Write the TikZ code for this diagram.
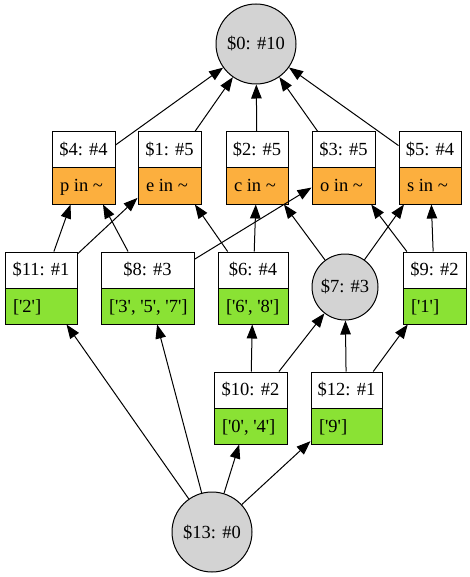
\documentclass[tikz,border=0pt]{standalone}
\usepackage{fontspec}
\setmainfont{Liberation Serif}
\usetikzlibrary{arrows.meta,calc}
\definecolor{gvorange}{HTML}{FCAF3E}
\definecolor{gvgreen}{HTML}{8AE234}
\definecolor{gvgrey}{HTML}{D3D3D3}
\newcommand\gvrec[7]{%
  \node[rec={#4}{#5}] (#1) at (#2,#3) {};
  \node[anchor=base] (#1t) at ($(#1.north)+(0,24)$) {#6};
  \node[anchor=base west] (#1b) at ($(#1.west)+(8,24)$) {#7};
}
\newcommand\q{\textquotesingle}
\begin{document}
\begin{tikzpicture}[x=1pt,y=-1pt,line width=1pt,
  every node/.style={font=\fontsize{18.5}{22}\selectfont, inner sep=0pt},
  circ/.style={circle, draw, fill=gvgrey, minimum size=#1},
  rec/.style 2 args={draw, minimum width=#1, minimum height=72,
    path picture={\fill[#2] (path picture bounding box.west) rectangle (path picture bounding box.south east);
      \draw (path picture bounding box.west) -- (path picture bounding box.east);}},
  edge/.style={-{Triangle[length=14pt,width=10.5pt]}}]
\useasboundingbox (0,0) rectangle (470,577);
% circles
\node[circ=80] (n0) at (256,44) {\$0: \#10};
\node[circ=66] (n7) at (345,287) {\$7: \#3};
\node[circ=80] (n13) at (212,532) {\$13: \#0};
% row 1
\gvrec{n4}{83.5}{168}{63}{gvorange}{\$4: \#4}{p in \textasciitilde}
\gvrec{n1}{169.5}{168}{63}{gvorange}{\$1: \#5}{e in \textasciitilde}
\gvrec{n2}{257}{168}{62}{gvorange}{\$2: \#5}{c in \textasciitilde}
\gvrec{n3}{343.5}{168}{63}{gvorange}{\$3: \#5}{o in \textasciitilde}
\gvrec{n5}{430}{168}{62}{gvorange}{\$5: \#4}{s in \textasciitilde}
% row 2
\gvrec{n11}{41}{288}{72}{gvgreen}{\$11: \#1}{[\q2\q]}
\gvrec{n8}{147.5}{288}{93}{gvgreen}{\$8: \#3}{[\q3\q, \q5\q, \q7\q]}
\gvrec{n6}{253}{288}{70}{gvgreen}{\$6: \#4}{[\q6\q, \q8\q]}
\gvrec{n9}{434.5}{288}{63}{gvgreen}{\$9: \#2}{[\q1\q]}
% row 3
\gvrec{n10}{250.5}{408}{73}{gvgreen}{\$10: \#2}{[\q0\q, \q4\q]}
\gvrec{n12}{346.5}{408}{71}{gvgreen}{\$12: \#1}{[\q9\q]}
% edges
\draw[edge] (n4) -- (n0);
\draw[edge] (n1) -- (n0);
\draw[edge] (n2) -- (n0);
\draw[edge] (n3) -- (n0);
\draw[edge] (n5) -- (n0);
\draw[edge] (n11) -- (n4);
\draw[edge] (n8) -- (n4);
\draw[edge] (n11) -- (n1);
\draw[edge] (n6) -- (n1);
\draw[edge] (n6) -- (n2);
\draw[edge] (n8) -- (n3);
\draw[edge] (n7) -- (n2);
\draw[edge] (n7) -- (n5);
\draw[edge] (n9) -- (n3);
\draw[edge] (n9) -- (n5);
\draw[edge] (n13) -- (n11);
\draw[edge] (n13) -- (n8);
\draw[edge] (n13) -- (n10);
\draw[edge] (n13) -- (n12);
\draw[edge] (n10) -- (n6);
\draw[edge] (n10) -- (n7);
\draw[edge] (n12) -- (n7);
\draw[edge] (n12) -- (n9);
\end{tikzpicture}
\end{document}
